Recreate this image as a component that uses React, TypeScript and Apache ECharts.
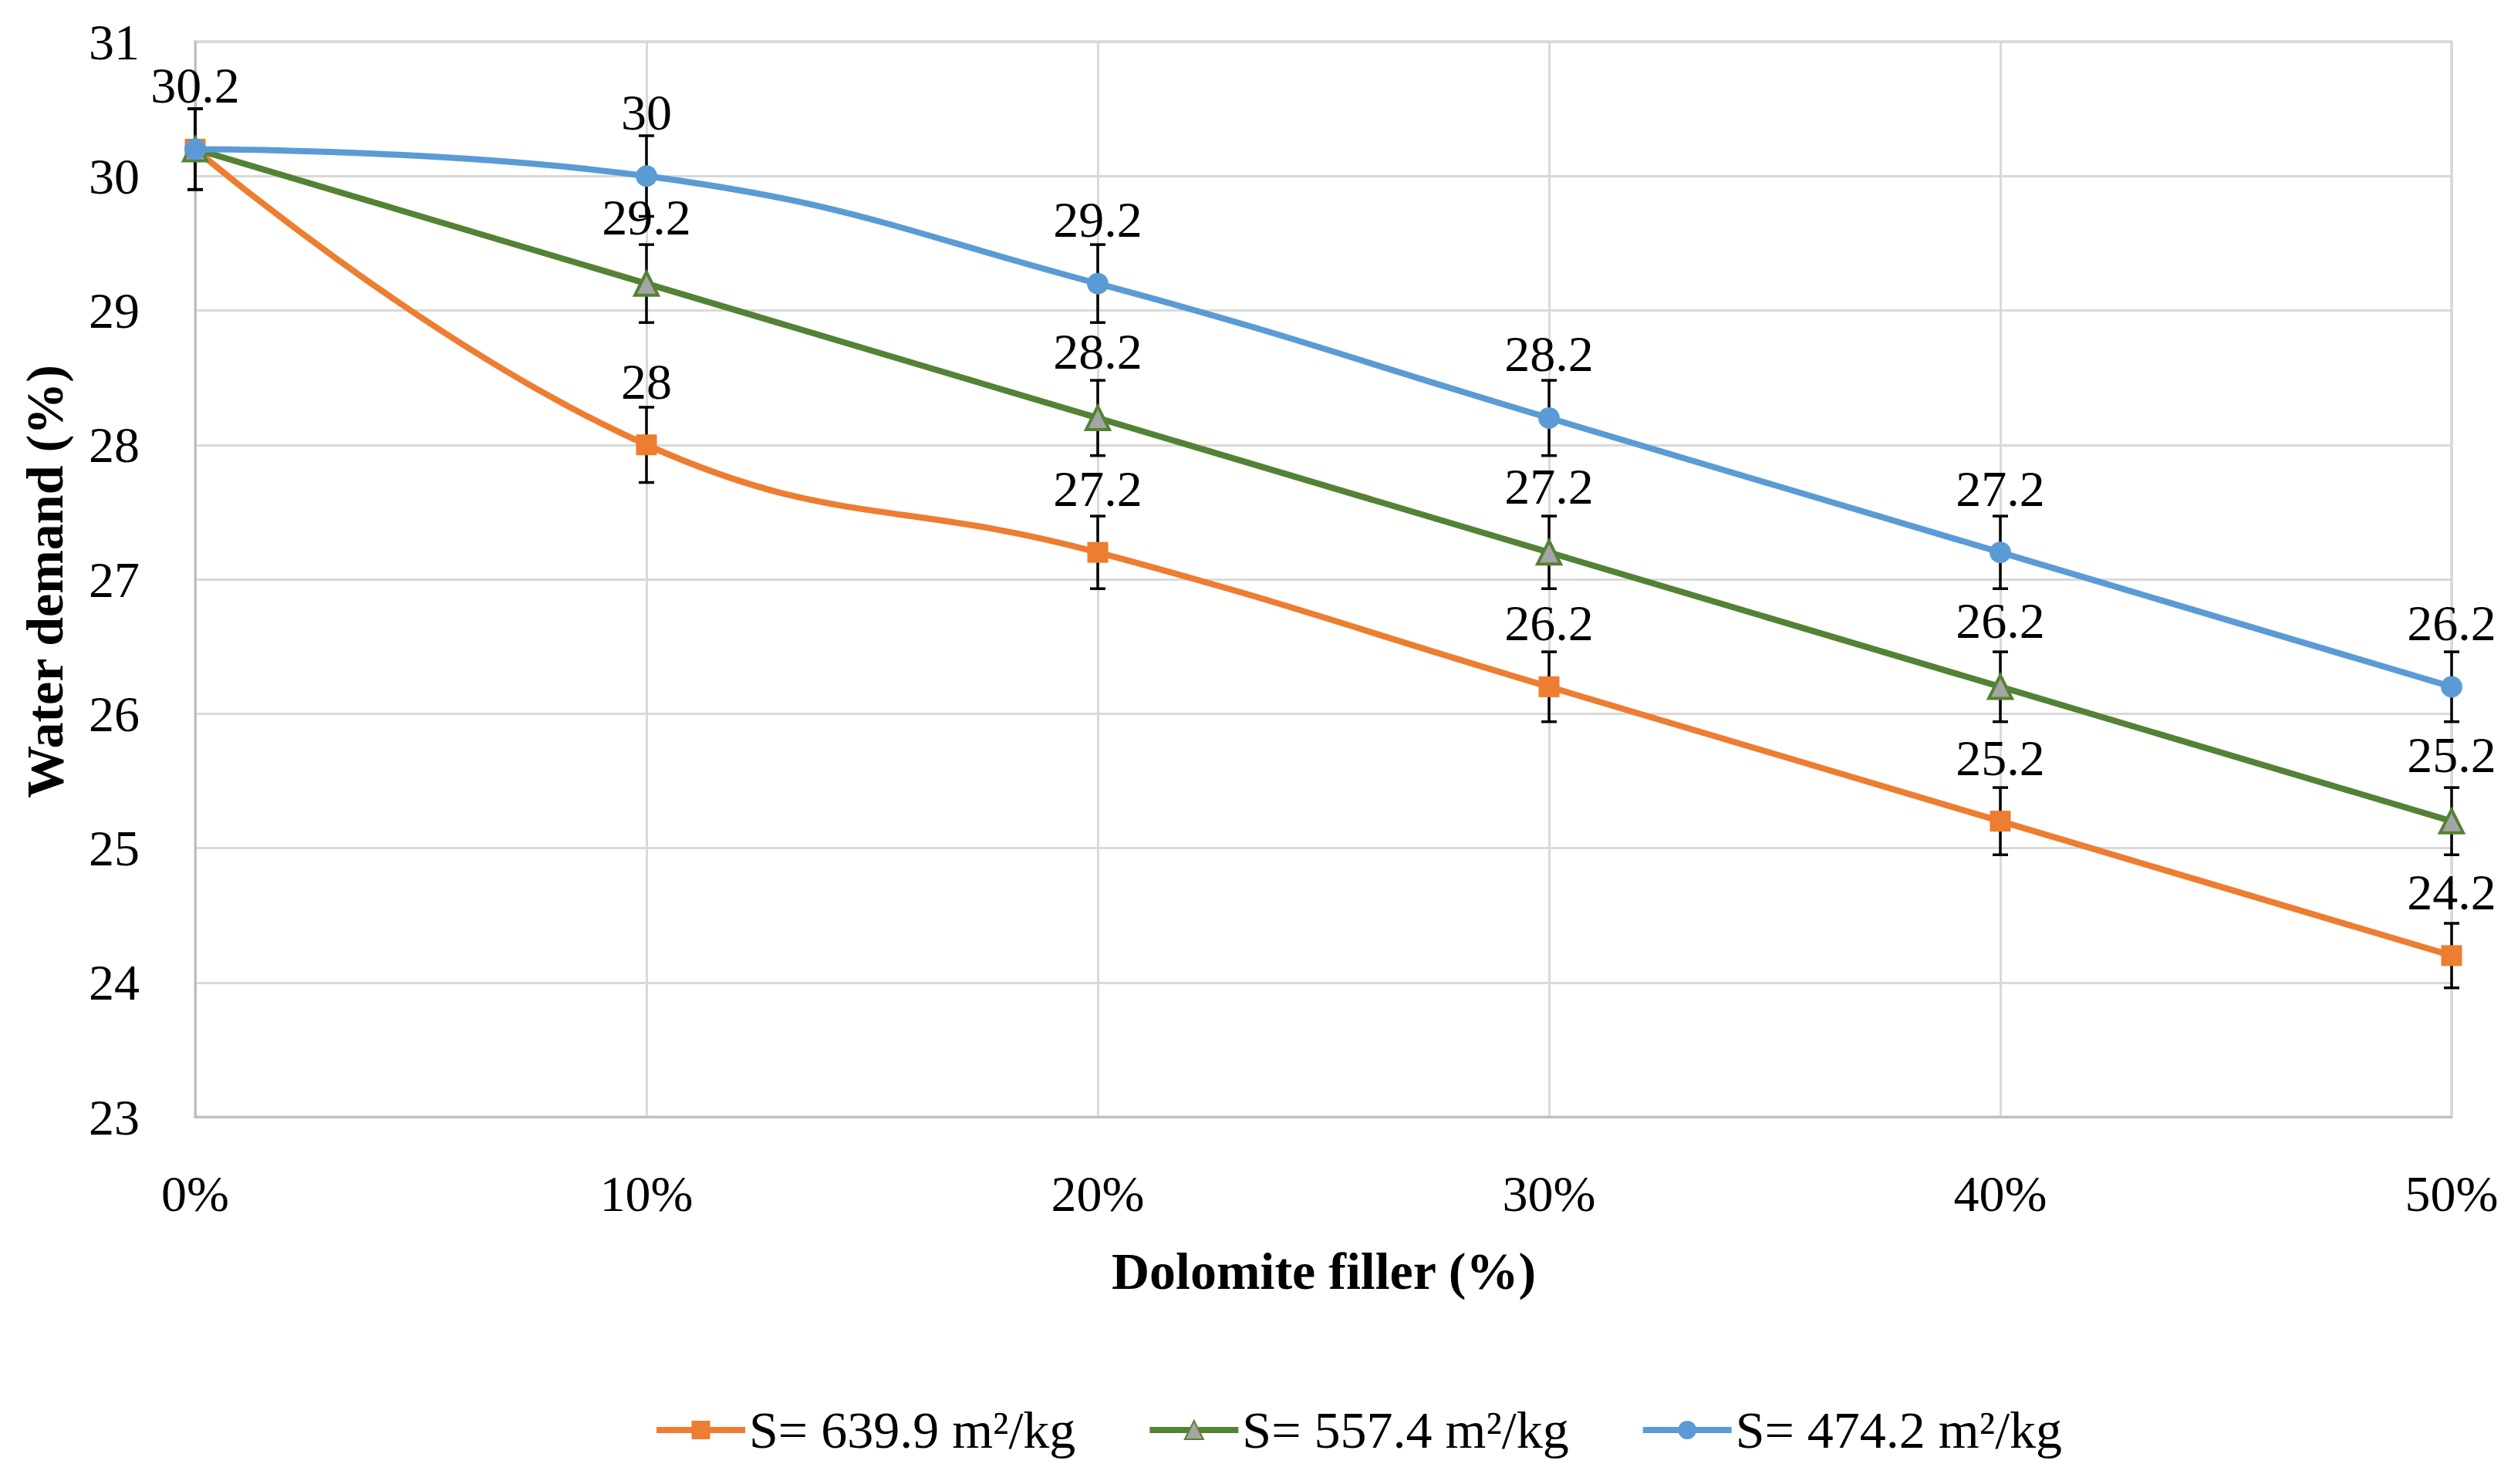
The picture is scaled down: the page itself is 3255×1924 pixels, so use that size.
import React, { useEffect, useRef } from "react";
import * as echarts from "echarts";

const categories = ["0%", "10%", "20%", "30%", "40%", "50%"];
const yTicks = [23, 24, 25, 26, 27, 28, 29, 30, 31];

const names = ["S= 639.9 m²/kg", "S= 557.4 m²/kg", "S= 474.2 m²/kg"];
const s1 = [30.2, 28, 27.2, 26.2, 25.2, 24.2];
const s1Err = [0.3, 0.28, 0.27, 0.26, 0.25, 0.24];
const s2 = [30.2, 29.2, 28.2, 27.2, 26.2, 25.2];
const s2Err = [0.3, 0.29, 0.28, 0.27, 0.26, 0.25];
const s3 = [30.2, 30, 29.2, 28.2, 27.2, 26.2];
const s3Err = [0.3, 0.3, 0.29, 0.28, 0.27, 0.26];

const FONT = "Liberation Serif";
const W = 3255;
const H = 1924;

function errData(vals: number[], errs: number[]) {
  return vals.map((v, i) => [i, v - errs[i], v + errs[i]]);
}

function errSeries(vals: number[], errs: number[]) {
  return {
    type: "custom",
    silent: true,
    z: 3,
    data: errData(vals, errs),
    encode: { x: 0, y: [1, 2] },
    renderItem: (_params: any, api: any) => {
      const x = api.value(0);
      const lo = api.coord([x, api.value(1)]);
      const hi = api.coord([x, api.value(2)]);
      const hw = 10;
      const st = { stroke: "#000000", lineWidth: 3.5 };
      return {
        type: "group",
        children: [
          { type: "line", shape: { x1: lo[0], y1: lo[1], x2: hi[0], y2: hi[1] }, style: st },
          { type: "line", shape: { x1: lo[0] - hw, y1: lo[1], x2: lo[0] + hw, y2: lo[1] }, style: st },
          { type: "line", shape: { x1: hi[0] - hw, y1: hi[1], x2: hi[0] + hw, y2: hi[1] }, style: st },
        ],
      };
    },
  };
}

function labelData(vals: number[], showFirst: boolean) {
  return vals.map((v, i) => ({
    value: v,
    label: { show: i === 0 ? showFirst : true },
  }));
}

const labelStyle = {
  show: true,
  position: "top",
  distance: 36,
  fontFamily: FONT,
  fontSize: 66,
  color: "#000000",
};

export default function App() {
  const ref = useRef<HTMLDivElement>(null);
  useEffect(() => {
    document.body.style.margin = "0";
    if (!ref.current) return;
    const chart = echarts.init(ref.current, undefined, { renderer: "svg" });
    const option: any = {
      animation: false,
      backgroundColor: "#ffffff",
      textStyle: { fontFamily: FONT },
      grid: {
        left: 253,
        right: W - 3178,
        top: 54,
        bottom: H - 1448,
        show: true,
        borderColor: "#bfbfbf",
        borderWidth: 3,
        backgroundColor: "transparent",
      },
      xAxis: {
        type: "category",
        data: categories,
        boundaryGap: false,
        axisLine: { show: true, lineStyle: { color: "#bfbfbf", width: 3 } },
        axisTick: { show: false },
        axisLabel: { fontFamily: FONT, fontSize: 66, color: "#000000", margin: 66 },
        splitLine: { show: true, lineStyle: { color: "#d9d9d9", width: 3 } },
      },
      yAxis: {
        type: "value",
        min: yTicks[0],
        max: yTicks[yTicks.length - 1],
        interval: 1,
        axisLine: { show: true, lineStyle: { color: "#bfbfbf", width: 3 } },
        axisTick: { show: false },
        axisLabel: { fontFamily: FONT, fontSize: 66, color: "#000000", margin: 72 },
        splitLine: { show: true, lineStyle: { color: "#d9d9d9", width: 3 } },
      },
      legend: {
        data: names,
        left: 842,
        top: 1815,
        itemWidth: 115,
        itemHeight: 30,
        itemGap: 92,
        lineStyle: { width: 8 },
        textStyle: { fontFamily: FONT, fontSize: 68, color: "#000000" },
      },
      graphic: [
        {
          type: "text",
          style: {
            text: "Dolomite filler (%)",
            x: 1716,
            y: 1648,
            textAlign: "center",
            textVerticalAlign: "middle",
            fontFamily: FONT,
            fontWeight: "bold",
            fontSize: 68,
            fill: "#000000",
          },
        },
        {
          type: "text",
          x: 58,
          y: 754,
          rotation: Math.PI / 2,
          style: {
            text: "Water demand (%)",
            x: 0,
            y: 0,
            textAlign: "center",
            textVerticalAlign: "middle",
            fontFamily: FONT,
            fontWeight: "bold",
            fontSize: 68,
            fill: "#000000",
          },
        },
      ],
      series: [
        errSeries(s1, s1Err),
        errSeries(s2, s2Err),
        errSeries(s3, s3Err),
        {
          name: names[0],
          type: "line",
          z: 5,
          smooth: 0.45,
          data: labelData(s1, false),
          symbol: "rect",
          symbolSize: 27,
          lineStyle: { color: "#ED7D31", width: 8 },
          itemStyle: { color: "#ED7D31" },
          label: labelStyle,
        },
        {
          name: names[1],
          type: "line",
          z: 6,
          data: labelData(s2, false),
          symbol: "triangle",
          symbolSize: 30,
          lineStyle: { color: "#548235", width: 8 },
          itemStyle: { color: "#A5A5A5", borderColor: "#548235", borderWidth: 4 },
          label: labelStyle,
        },
        {
          name: names[2],
          type: "line",
          z: 7,
          smooth: 0.45,
          data: labelData(s3, true),
          symbol: "circle",
          symbolSize: 28,
          lineStyle: { color: "#5B9BD5", width: 8 },
          itemStyle: { color: "#5B9BD5" },
          label: labelStyle,
        },
      ],
    };
    chart.setOption(option);
    return () => chart.dispose();
  }, []);
  return <div ref={ref} style={{ width: W, height: H }} />;
}
